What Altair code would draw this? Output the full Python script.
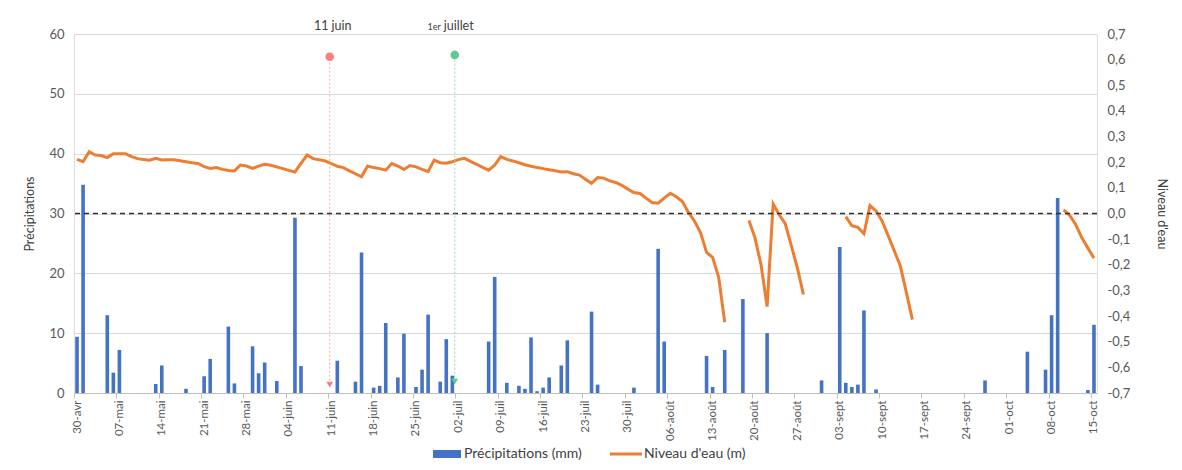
import altair as alt
import pandas as pd

# ---------------- data ----------------
tick_labels = ["30-avr", "07-mai", "14-mai", "21-mai", "28-mai", "04-juin", "11-juin",
               "18-juin", "25-juin", "02-juil", "09-juil", "16-juil", "23-juil", "30-juil",
               "06-août", "13-août", "20-août", "27-août", "03-sept", "10-sept", "17-sept",
               "24-sept", "01-oct", "08-oct", "15-oct"]

# day index counted from 30-avr
precip_days = [0, 1, 5, 6, 7, 13, 14, 18, 21, 22, 25, 26, 29, 30, 31, 33, 36, 37, 43, 46,
               47, 49, 50, 51, 53, 54, 56, 57, 58, 60, 61, 62, 68, 69, 71, 73, 74, 75, 76, 77,
               78, 80, 81, 85, 86, 92, 96, 97, 104, 105, 107, 110, 114, 123, 126, 127, 128, 129,
               130, 132, 150, 157, 160, 161, 162, 167, 168]
precip_mm = [9.4, 34.8, 13.0, 3.4, 7.2, 1.5, 4.6, 0.7, 2.8, 5.7, 11.1, 1.6, 7.8, 3.3, 5.1, 2.0,
             29.3, 4.5, 5.4, 1.9, 23.5, 0.9, 1.2, 11.7, 2.6, 9.9, 1.0, 3.9, 13.1, 1.9, 9.0, 2.9,
             8.6, 19.4, 1.7, 1.2, 0.7, 9.3, 0.3, 0.9, 2.6, 4.6, 8.8, 13.6, 1.4, 0.9, 24.1, 8.6,
             6.2, 1.0, 7.2, 15.7, 10.0, 2.1, 24.4, 1.7, 1.0, 1.4, 13.8, 0.6, 2.1, 6.9, 3.9,
             13.0, 32.6, 0.5, 11.4]

# water level (m), one value per day, None = no measurement
level = [
    0.211, 0.202, 0.241, 0.228, 0.226, 0.218, 0.233, 0.233, 0.233, 0.222,
    0.214, 0.211, 0.208, 0.215, 0.209, 0.210, 0.210, 0.206, 0.202, 0.198,
    0.195, 0.183, 0.176, 0.179, 0.172, 0.168, 0.166, 0.189, 0.185, 0.176,
    0.185, 0.192, 0.188, 0.182, 0.175, 0.168, 0.162, 0.195, 0.228, 0.214,
    0.210, 0.205, 0.195, 0.184, 0.179, 0.166, 0.155, 0.143, 0.185, 0.179,
    0.175, 0.169, 0.195, 0.185, 0.172, 0.187, 0.182, 0.172, 0.163, 0.208,
    0.198, 0.196, 0.202, 0.210, 0.215, 0.203, 0.192, 0.180, 0.169, 0.189,
    0.222, 0.211, 0.205, 0.198, 0.190, 0.184, 0.179, 0.175, 0.171, 0.167,
    0.162, 0.163, 0.155, 0.150, 0.134, 0.118, 0.140, 0.138, 0.127, 0.121,
    0.110, 0.095, 0.082, 0.078, 0.060, 0.043, 0.040, 0.060, 0.079, 0.065,
    0.047, 0.004, -0.029, -0.074, -0.152, -0.171, -0.249, -0.424, None, None,
    None, -0.027, -0.095, -0.200, -0.363, 0.037, -0.005, -0.040, -0.125, -0.212,
    -0.316, None, None, None, None, None, None, -0.012, -0.048, -0.054,
    -0.079, 0.031, 0.010, -0.029, -0.087, -0.145, -0.204, -0.307, -0.414, None,
    None, None, None, None, None, None, None, None, None, None,
    None, None, None, None, None, None, None, None, None, None,
    None, None, None, 0.014, -0.008, -0.044, -0.095, -0.135, -0.174,
]

left_ticks = [0, 10, 20, 30, 40, 50, 60]
right_ticks = [-0.7, -0.6, -0.5, -0.4, -0.3, -0.2, -0.1, 0.0, 0.1, 0.2, 0.3, 0.4, 0.5, 0.6, 0.7]
ref_level = [30]

annot_days = [42.25, 62.9]
annot_dot = [56.2, 56.5]
annot_tri = [1.4, 1.9]
annot_colors = ["#FF7C80", "#5CCB8F"]
annot_line_colors = ["#FF9A9E", "#8EDDB3"]

# ---------------- frames ----------------
bars_df = pd.DataFrame({"day": [d + 0.5 for d in precip_days], "mm": precip_mm})
rows = []
seg = 0
prev = None
for d, v in enumerate(level):
    if v is None:
        prev = None
        continue
    if prev is None:
        seg += 1
    rows.append({"day": d + 0.5, "lvl": v, "seg": seg})
    prev = v
line_df = pd.DataFrame(rows)
ref_df = pd.DataFrame({"val": ref_level})
ann_df = pd.DataFrame({"day": annot_days, "top": annot_dot, "bot": annot_tri,
                       "col": annot_colors, "lcol": annot_line_colors})
txt_df = pd.DataFrame({"day": [annot_days[0]], "y": [61.3], "t": ["11 juin"]})
txt2_df = pd.DataFrame({"day": [annot_days[1]], "y": [61.3]})
one = pd.DataFrame({"a": [0]})

FONT = "Lato"
W, H = 1023, 359
TXT = "#404040"
LBL = "#595959"

x_scale = alt.Scale(domain=[0, 169], nice=False, zero=False, padding=0)
label_expr = "[" + ",".join("'" + t + "'" for t in tick_labels) + "][round(datum.value/7)]"
x_axis = alt.Axis(values=list(range(0, 169, 7)), labelExpr=label_expr, labelAngle=270,
                  labelOffset=3, labelPadding=2, tickSize=5, grid=False, title=None,
                  domainColor="#BFBFBF", tickColor="#BFBFBF", labelColor=LBL,
                  labelFontSize=11.5, labelFont=FONT)
X = alt.X("day:Q", scale=x_scale, axis=x_axis)
left_scale = alt.Scale(domain=[0, 60], nice=False, zero=False)

bars = alt.Chart(bars_df).mark_bar(size=3.6, color="#4472C4").encode(
    x=X,
    y=alt.Y("mm:Q", scale=left_scale,
            axis=alt.Axis(orient="left", values=left_ticks, grid=True, gridColor="#D9D9D9",
                          domain=False, ticks=False, labelPadding=10, labelFontSize=13,
                          labelColor=LBL, labelFont=FONT, title="Précipitations",
                          titleFontWeight="normal", titleFontSize=12.5, titleColor=TXT,
                          titleFont=FONT, titlePadding=12)),
)

right_expr = ("(datum.value < -0.001 ? '-' : '') + "
              "replace(format(abs(datum.value), '.1f'), '.', ',')")
line = alt.Chart(line_df).mark_line(color="#ED7D31", strokeWidth=3).encode(
    x=X,
    y=alt.Y("lvl:Q", scale=alt.Scale(domain=[-0.7, 0.7], nice=False, zero=False),
            axis=alt.Axis(orient="right", values=right_ticks, labelExpr=right_expr,
                          grid=False, domain=False, ticks=False, labelPadding=10,
                          labelFontSize=13, labelColor=LBL, labelFont=FONT,
                          title="Niveau d'eau", titleFontWeight="normal",
                          titleFontSize=12.5, titleColor=TXT, titleFont=FONT,
                          titlePadding=25)),
    detail="seg:N",
)

ref = alt.Chart(ref_df).mark_rule(color="#303030", strokeDash=[5, 4], strokeWidth=1.4).encode(
    y=alt.Y("val:Q", scale=left_scale, axis=None),
)

vlines = alt.Chart(ann_df).mark_rule(strokeDash=[2, 2], strokeWidth=1).encode(
    x=X,
    y=alt.Y("bot:Q", scale=left_scale, axis=None),
    y2="top:Q",
    color=alt.Color("lcol:N", scale=None),
)
dots = alt.Chart(ann_df).mark_point(filled=True, size=75, opacity=1).encode(
    x=X, y=alt.Y("top:Q", scale=left_scale, axis=None),
    color=alt.Color("col:N", scale=None),
)
tris = alt.Chart(ann_df).mark_point(shape="triangle-down", filled=True, size=45, opacity=1).encode(
    x=X, y=alt.Y("bot:Q", scale=left_scale, axis=None),
    color=alt.Color("col:N", scale=None),
)
t1 = alt.Chart(txt_df).mark_text(font=FONT, fontSize=12.5, color=TXT, dx=3,
                                 baseline="middle").encode(
    x=X, y=alt.Y("y:Q", scale=left_scale, axis=None), text="t:N")
t2a = alt.Chart(txt2_df).mark_text(font=FONT, fontSize=9, color=TXT, dx=-14, dy=1,
                                   align="right", baseline="middle", text="1er").encode(
    x=X, y=alt.Y("y:Q", scale=left_scale, axis=None))
t2b = alt.Chart(txt2_df).mark_text(font=FONT, fontSize=12.5, color=TXT, dx=-11,
                                   align="left", baseline="middle", text="juillet").encode(
    x=X, y=alt.Y("y:Q", scale=left_scale, axis=None))

# legend
leg_rect = alt.Chart(one).mark_rect(color="#4472C4").encode(
    x=alt.value(359), x2=alt.value(387), y=alt.value(416), y2=alt.value(424))
leg_t1 = alt.Chart(one).mark_text(font=FONT, fontSize=14, color=TXT, align="left",
                                  baseline="middle", text="Précipitations (mm)").encode(
    x=alt.value(390), y=alt.value(420))
leg_line = alt.Chart(one).mark_rule(color="#ED7D31", strokeWidth=3).encode(
    x=alt.value(536), x2=alt.value(568), y=alt.value(420))
leg_t2 = alt.Chart(one).mark_text(font=FONT, fontSize=14, color=TXT, align="left",
                                  baseline="middle", text="Niveau d'eau (m)").encode(
    x=alt.value(570), y=alt.value(420))

chart = alt.layer(
    bars, line, ref, vlines, dots, tris, t1, t2a, t2b, leg_rect, leg_t1, leg_line, leg_t2
).resolve_scale(y="independent").properties(
    width=W, height=H,
    autosize=alt.AutoSizeParams(type="none"),
    padding={"left": 66, "top": 26, "right": 76, "bottom": 69},
).configure_view(stroke=None).configure(font=FONT)

chart.save("out.html", embed_options={"renderer": "svg", "actions": False})
